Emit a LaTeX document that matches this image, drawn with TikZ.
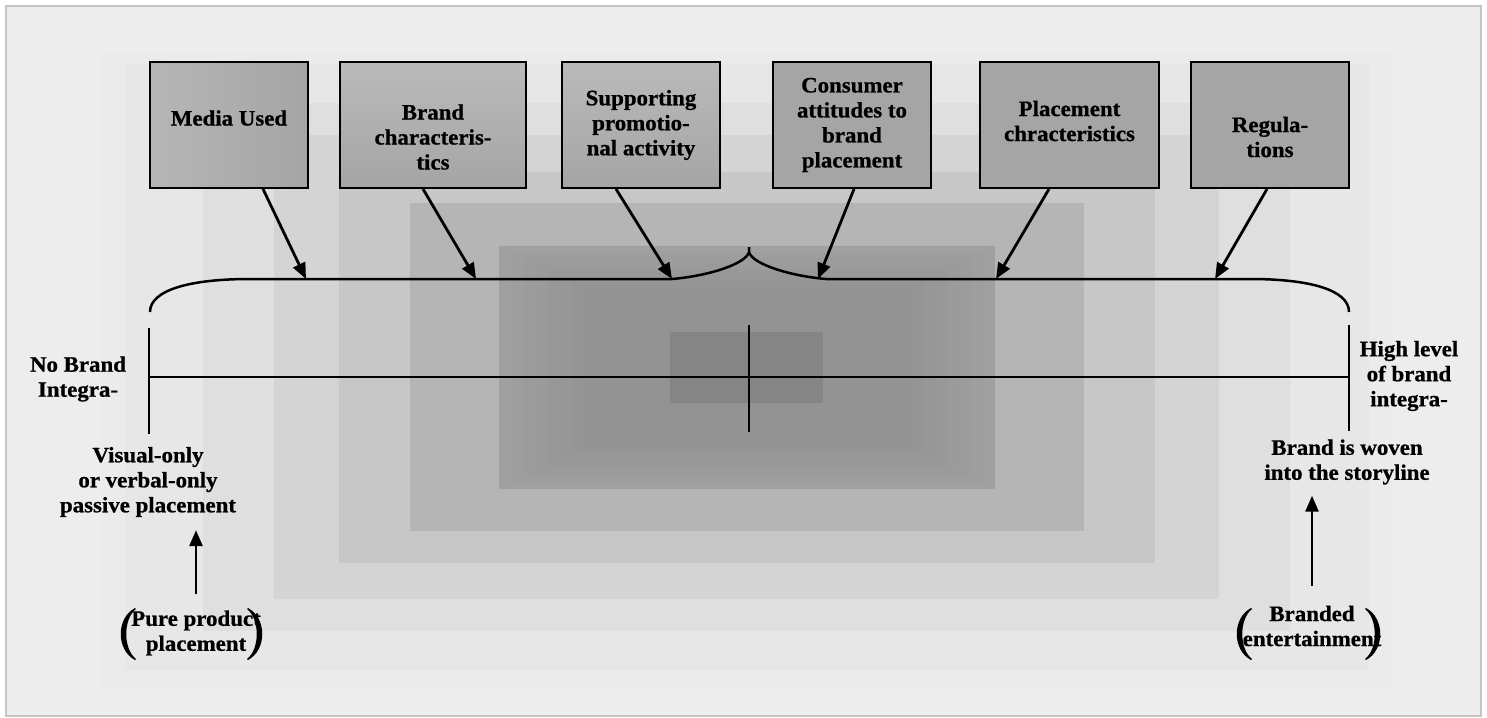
\documentclass[tikz,border=0pt]{standalone}
\usepackage{fontspec}
\setmainfont[FakeStretch=1.04, BoldFeatures={FakeBold=0.8}]{Liberation Serif}
\usetikzlibrary{arrows.meta}

\definecolor{pagebg}{HTML}{EDEDED}
\definecolor{frameline}{HTML}{C4C4C4}
\definecolor{ringA}{HTML}{EBEBEB}
\definecolor{ringB}{HTML}{E7E7E7}
\definecolor{ringC}{HTML}{DFDFDF}
\definecolor{ringD}{HTML}{D4D4D4}
\definecolor{ringE}{HTML}{C7C7C7}
\definecolor{ringF}{HTML}{B5B5B5}
\definecolor{ringG}{HTML}{A0A0A0}
\definecolor{ringCore}{HTML}{939393}
\definecolor{ringJ}{HTML}{858585}
\definecolor{boxgrey}{HTML}{A5A5A5}
\definecolor{boxlight}{HTML}{BABABA}

\tikzset{
  factor/.style={draw=black, line width=2pt, fill=boxgrey,
    minimum height=126pt, inner sep=0pt, minimum width=158pt},
  fadedbox/.style={top color=boxlight, bottom color=boxgrey},
  lbl/.style={align=center, inner sep=0pt,
    font=\fontsize{22}{25}\selectfont\bfseries},
  pointer/.style={line width=2.8pt, -{Triangle[length=16pt,width=13pt]}},
  axisline/.style={line width=2pt},
  tickline/.style={line width=2.4pt},
  bracepath/.style={line width=2.5pt},
  pics/lparen/.style={code={
    \fill (15,0) .. controls (-4,10) and (-4,42) .. (15,52)
      -- (16,51) .. controls (3,41) and (3,11) .. (16,1) -- cycle;}},
  pics/rparen/.style={code={
    \fill (0,0) .. controls (19,10) and (19,42) .. (0,52)
      -- (-1,51) .. controls (12,41) and (12,11) .. (-1,1) -- cycle;}},
}

\begin{document}
\begin{tikzpicture}[x=1pt,y=-1pt]
\useasboundingbox (0,0) rectangle (1487,717);

% page and frame
\fill[white] (0,0) rectangle (1487,717);
\fill[pagebg] (6,6) rectangle (1481,716);
\draw[frameline, line width=1.5pt] (6,6) rectangle (1481,716);

% stepped grey background, darkest at the middle
\fill[ringA] (102,52) rectangle (1392,690);
\fill[ringB] (125,64) rectangle (1369,670);
\fill[ringC] (203,103) rectangle (1290,631);
\fill[ringD] (274,135) rectangle (1219,599);
\fill[ringE] (339,172) rectangle (1155,563);
\fill[ringF] (410,203) rectangle (1084,531);
% soft darkening inside the inner ring
\foreach \k in {0,...,7} {
  \pgfmathsetmacro{\mix}{100-\k*100/7}
  \fill[ringG!\mix!ringCore] (499+\k*12,246+\k*6) rectangle (995-\k*12,489-\k*6);
}
\fill[ringJ] (670,332) rectangle (823,403);

% factor boxes
\node[factor, left color=boxlight!80!boxgrey, right color=boxgrey] (b1) at (229,125) {};
\node[factor, fadedbox, minimum width=186pt] (b2) at (433,125) {};
\node[factor, fadedbox] (b3) at (641,125) {};
\node[factor] (b4) at (852,125) {};
\node[factor, minimum width=179pt] (b5) at (1069.5,125) {};
\node[factor] (b6) at (1270,125) {};

\node[lbl] (t1) at (229,118) {Media Used};
\node[lbl] (t2) at (433,137) {Brand\\characteris-\\tics};
\node[lbl] (t3) at (641,125) {Supporting\\promotio-\\nal activity};
\node[lbl] (t4) at (852,125) {Consumer\\attitudes to\\brand\\placement};
\node[lbl] (t5) at (1069.5,121) {Placement\\chracteristics};
\node[lbl] (t6) at (1270,137) {Regula-\\tions};

% brace over the scale
\coordinate (brL) at (150,312);
\coordinate (brR) at (1349,312);
\coordinate (brTip) at (749,247);
\coordinate (e1) at (306,279);
\coordinate (e2) at (476,279);
\coordinate (e3) at (672,279);
\coordinate (e4) at (818,279);
\coordinate (e5) at (996,279);
\coordinate (e6) at (1215,279);

\draw[bracepath] (brL) .. controls (150,290) and (190,279) .. (250,279)
  -- (e3) .. controls (708,276) and (746,264) .. (749,252) -- (brTip)
  (749,252) .. controls (752,264) and (790,276) .. (826,279)
  -- (1250,279) .. controls (1310,279) and (1349,290) .. (brR);

% influences pointing at the brace
\draw[pointer] ([xshift=34pt]b1.south) -- (e1);
\draw[pointer] ([xshift=-10pt]b2.south) -- (e2);
\draw[pointer] ([xshift=-25pt]b3.south) -- (e3);
\draw[pointer] ([xshift=2pt]b4.south) -- (e4);
\draw[pointer] ([xshift=-20.5pt]b5.south) -- (e5);
\draw[pointer] ([xshift=-3pt]b6.south) -- (e6);

% integration scale
\coordinate (axL) at (149,377);
\coordinate (axM) at (749,377);
\coordinate (axR) at (1349,377);
\draw[axisline] (axL) -- (axR);
\draw[tickline] (149,328) -- (149,434);
\draw[tickline] (749,325) -- (749,432);
\draw[tickline] (1349,325) -- (1349,431);

\node[lbl] (lowend) at (78,379) {No Brand\\Integra-};
\node[lbl] (highend) at (1409,376) {High level\\of brand\\integra-};

\node[lbl] (visual) at (148,482) {Visual-only\\or verbal-only\\passive placement};
\node[lbl] (woven) at (1347,462) {Brand is woven\\into the storyline};

\node[lbl] (pure) at (196,633) {Pure product\\placement};
\node[lbl] (branded) at (1312,626) {Branded\\entertainment};

\pic at (120,608) {lparen};
\pic at (248,608) {rparen};
\pic at (1236,608) {lparen};
\pic at (1366,608) {rparen};

\draw[pointer, shorten <=16pt, shorten >=13pt] (pure.north) -- (pure.north |- visual.south);
\draw[pointer, shorten <=20pt, shorten >=11pt] (branded.north) -- (branded.north |- woven.south);
\end{tikzpicture}
\end{document}
